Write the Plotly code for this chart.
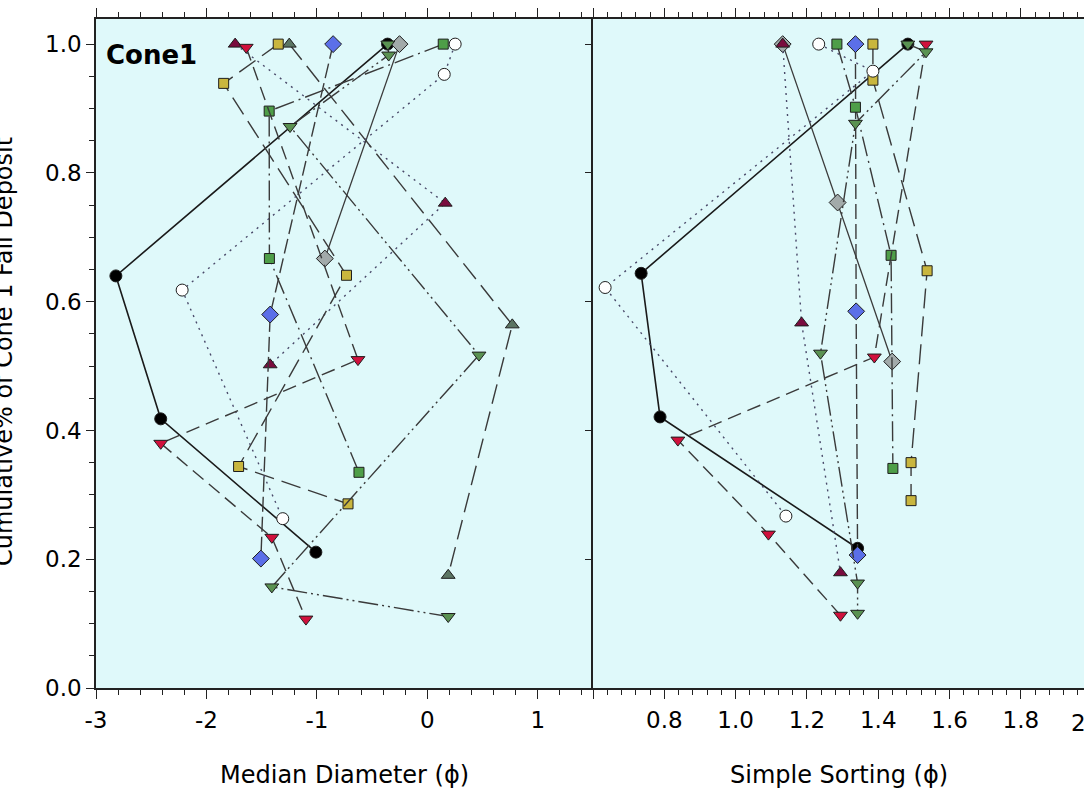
import plotly.graph_objects as go

# ---------------- data ----------------
# Left panel: Median Diameter (phi) vs cumulative fraction
md_black_x = [-0.36, -2.82, -2.414, -1.009]
md_black_y = [1.0, 0.640, 0.418, 0.211]
md_white_x = [0.252, 0.153, -2.22, -1.309]
md_white_y = [1.0, 0.953, 0.618, 0.263]
md_red_x = [-1.64, -0.628, -2.414, -1.408, -1.099]
md_red_y = [0.995, 0.510, 0.380, 0.234, 0.107]
md_maroon_x = [-1.74, 0.162, -1.423]
md_maroon_y = [1.0, 0.753, 0.502]
md_gray_x = [-0.252, -0.928]
md_gray_y = [1.0, 0.667]
md_blue_x = [-0.853, -1.423, -1.507]
md_blue_y = [1.0, 0.580, 0.201]
md_gsq_x = [0.144, -1.432, -1.43, -0.619]
md_gsq_y = [1.0, 0.896, 0.667, 0.335]
md_ysq_x = [-1.35, -1.844, -0.732, -1.709, -0.718]
md_ysq_y = [1.0, 0.939, 0.641, 0.344, 0.286]
md_gtri_x = [-0.358, -0.35, -1.243, 0.468, -1.408, 0.189]
md_gtri_y = [1.0, 0.983, 0.872, 0.517, 0.157, 0.111]
md_slate_x = [-1.25, 0.769, 0.189]
md_slate_y = [1.0, 0.564, 0.175]

# Right panel: Simple Sorting (phi) vs cumulative fraction
ss_black_x = [1.483, 0.735, 0.788, 1.342]
ss_black_y = [1.0, 0.644, 0.421, 0.217]
ss_white_x = [1.233, 1.385, 0.634, 1.141]
ss_white_y = [1.0, 0.958, 0.622, 0.267]
ss_red_x = [1.534, 1.389, 0.838, 1.092, 1.294]
ss_red_y = [1.0, 0.514, 0.385, 0.239, 0.113]
ss_maroon_x = [1.132, 1.185, 1.294]
ss_maroon_y = [1.0, 0.567, 0.179]
ss_gray_x = [1.132, 1.286, 1.439]
ss_gray_y = [1.0, 0.754, 0.507]
ss_blue_x = [1.336, 1.338, 1.342]
ss_blue_y = [1.0, 0.585, 0.2065]
ss_gsq_x = [1.284, 1.336, 1.436, 1.441]
ss_gsq_y = [1.0, 0.902, 0.672, 0.341]
ss_ysq_x = [1.385, 1.385, 1.537, 1.492, 1.492]
ss_ysq_y = [1.0, 0.944, 0.648, 0.350, 0.291]
ss_gtri_x = [1.483, 1.534, 1.336, 1.238, 1.342, 1.342]
ss_gtri_y = [1.0, 0.988, 0.877, 0.520, 0.163, 0.116]
ss_slate_x = []
ss_slate_y = []

md_tickvals = [-3, -2, -1, 0, 1]
md_ticktext = ["-3", "-2", "-1", "0", "1"]
ss_tickvals = [0.6, 0.8, 1.0, 1.2, 1.4, 1.6, 1.8]
ss_ticktext = ["", "0.8", "1.0", "1.2", "1.4", "1.6", "1.8"]

# ---------------- styles ----------------
LINE = "#3a3a3a"
EDGE = "#1e1e1e"
FONT = "DejaVu Sans"

series = [
    # name, left x, left y, right x, right y, symbol, fill, size, dash, line width, line colour
    ("black", md_black_x, md_black_y, ss_black_x, ss_black_y, "circle", "#000000", 12, "solid", 1.6, "#1a1a1a"),
    ("gray", md_gray_x, md_gray_y, ss_gray_x, ss_gray_y, "diamond", "#a2aaaa", 13, "solid", 1.3, LINE),
    ("maroon", md_maroon_x, md_maroon_y, ss_maroon_x, ss_maroon_y, "triangle-up", "#7a0c3e", 12, "2px,5px", 1.4, "#4a4a6a"),
    ("slate", md_slate_x, md_slate_y, ss_slate_x, ss_slate_y, "triangle-up", "#5b7563", 12, "20px,8px", 1.4, LINE),
    ("blue", md_blue_x, md_blue_y, ss_blue_x, ss_blue_y, "diamond", "#5b6fe8", 13, "15px,5px", 1.4, LINE),
    ("gsq", md_gsq_x, md_gsq_y, ss_gsq_x, ss_gsq_y, "square", "#4e9e48", 10, "20px,5px,2px,5px", 1.4, LINE),
    ("ysq", md_ysq_x, md_ysq_y, ss_ysq_x, ss_ysq_y, "square", "#c9b63e", 10, "20px,8px", 1.4, LINE),
    ("white", md_white_x, md_white_y, ss_white_x, ss_white_y, "circle", "#ffffff", 12, "2px,5px", 1.4, "#4a4a6a"),
    ("red", md_red_x, md_red_y, ss_red_x, ss_red_y, "triangle-down", "#d0103c", 12, "14px,7px", 1.4, LINE),
    ("gtri", md_gtri_x, md_gtri_y, ss_gtri_x, ss_gtri_y, "triangle-down", "#5a9252", 12, "20px,4px,2px,4px,2px,4px", 1.4, LINE),
]

fig = go.Figure()
for name, lx, ly, rx, ry, sym, fill, size, dash, lw, lc in series:
    for xs, ys, xa, ya in ((lx, ly, "x", "y"), (rx, ry, "x2", "y2")):
        if not xs:
            continue
        fig.add_trace(go.Scatter(
            x=xs, y=ys, xaxis=xa, yaxis=ya, mode="lines+markers", name=name,
            line=dict(color=lc, width=lw, dash=dash),
            marker=dict(symbol=sym, size=size, color=fill, line=dict(color=EDGE, width=1)),
            showlegend=False, cliponaxis=False,
        ))

W, H = 1084, 792
X0, XM, Y_TOP, Y_BOT = 96, 593, 19, 688
ydom = [(H - Y_BOT) / H, (H - Y_TOP) / H]
tickfont = dict(family=FONT, size=23, color="#000")
axis_common = dict(showgrid=False, zeroline=False, showline=True, linecolor="#222",
                   linewidth=1.5, ticks="outside", tickcolor="#222", tickwidth=1.3,
                   automargin=False)

fig.update_layout(
    width=W, height=H, margin=dict(l=0, r=0, t=0, b=0, autoexpand=False),
    paper_bgcolor="#ffffff", plot_bgcolor="#dff9fa",
    xaxis=dict(domain=[X0 / W, XM / W], range=[-3, 1.5], anchor="y",
               tickmode="array", tickvals=md_tickvals, ticktext=md_ticktext,
               ticklen=9, mirror="ticks", tickfont=tickfont, ticklabelstandoff=2,
               minor=dict(tickmode="linear", tick0=-3, dtick=0.2, ticks="outside",
                          ticklen=5, tickcolor="#222", tickwidth=1),
               **axis_common),
    yaxis=dict(domain=ydom, range=[0, 1.039], anchor="x",
               tickmode="linear", tick0=0, dtick=0.2, tickformat=".1f",
               ticklen=8, mirror=False, tickfont=tickfont,
               minor=dict(tickmode="linear", tick0=0, dtick=0.05, ticks="outside",
                          ticklen=5, tickcolor="#222", tickwidth=1),
               **axis_common),
    xaxis2=dict(domain=[XM / W, 1.0], range=[0.6, 1.977], anchor="y2",
                tickmode="array", tickvals=ss_tickvals, ticktext=ss_ticktext,
                ticklen=9, mirror="ticks", tickfont=tickfont, ticklabelstandoff=2,
                minor=dict(tickmode="linear", tick0=0.6, dtick=0.04, ticks="outside",
                           ticklen=5, tickcolor="#222", tickwidth=1),
                **axis_common),
    yaxis2=dict(domain=ydom, range=[0, 1.039], anchor="x2",
                tickmode="linear", tick0=0, dtick=0.2, ticklen=6,
                showticklabels=False, **axis_common),
)

ann = [
    dict(text="<b>Cone1</b>", x=151 / W, y=(H - 55) / H, font=dict(family=FONT, size=26, color="#000")),
    dict(text="Median Diameter (ϕ)", x=(X0 + XM) / 2 / W, y=(H - 775) / H,
         font=dict(family=FONT, size=24, color="#000")),
    dict(text="Simple Sorting (ϕ)", x=(XM + W) / 2 / W, y=(H - 775) / H,
         font=dict(family=FONT, size=24, color="#000")),
    dict(text="Cumulative% of Cone 1 Fall Deposit", textangle=-90, x=4 / W, y=(H - 352) / H,
         font=dict(family=FONT, size=24, color="#000")),
    dict(text="2.0", x=1089.6 / W, y=(H - 723) / H, font=tickfont),
]
for a in ann:
    fig.add_annotation(xref="paper", yref="paper", showarrow=False,
                       xanchor="center", yanchor="middle", **a)

fig.write_html("out.html", config={"displayModeBar": False},
               post_script="document.body.style.margin='0';document.body.style.overflow='hidden';")
